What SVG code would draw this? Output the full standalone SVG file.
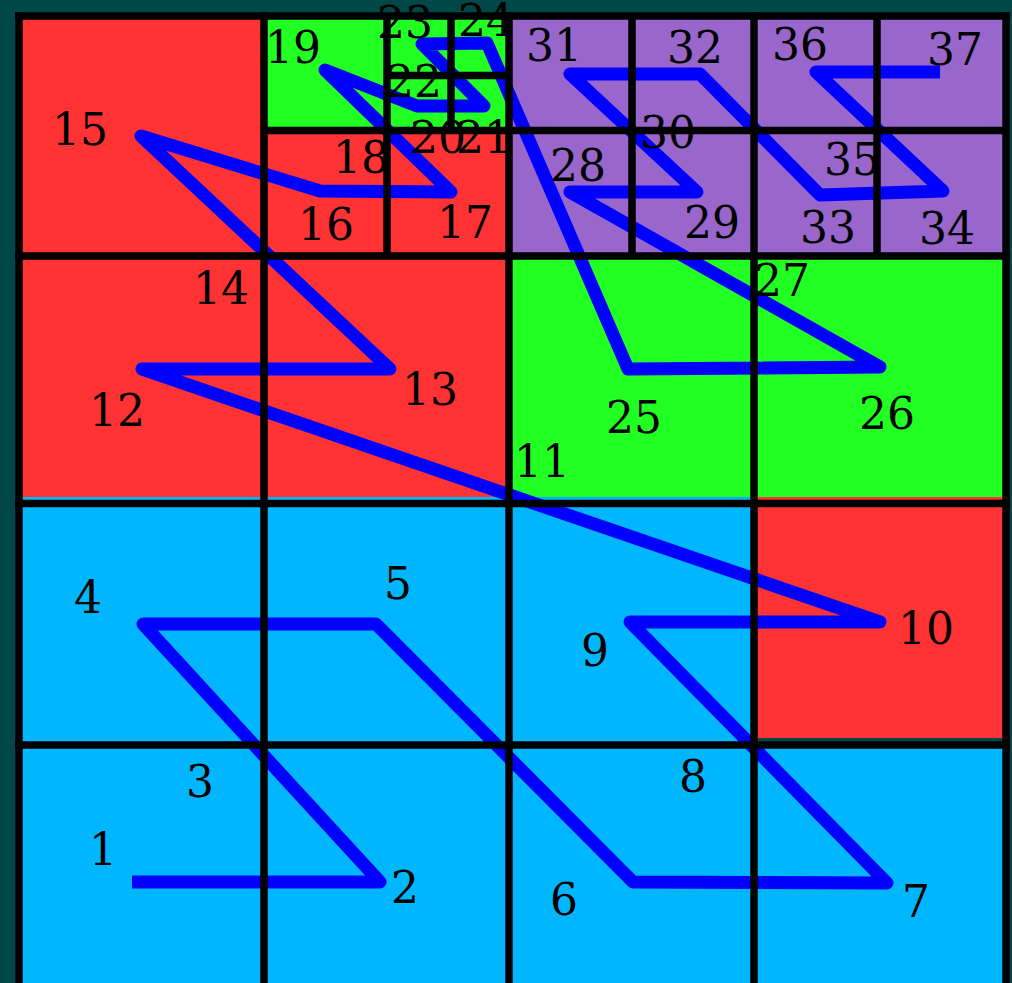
<svg xmlns="http://www.w3.org/2000/svg" width="1012" height="983" viewBox="0 0 1012 983">
<style>
.r{fill:#ff3333}.g{fill:#22ff22}.c{fill:#00b7ff}.p{fill:#9966cc}
.ln{stroke:#000;stroke-width:7.5;fill:none}
.path{stroke:#0000ff;stroke-width:13;fill:none;stroke-linejoin:round;stroke-linecap:butt}
text{font-family:"DejaVu Serif",serif;font-size:44px;fill:#000;text-anchor:middle}
</style>
<rect width="1012" height="983" fill="#004747"/>
<g id="cells">
<rect class="r" x="19" y="16" width="245" height="240"/>
<rect class="g" x="264" y="16" width="245" height="115"/>
<rect class="r" x="264" y="130" width="245" height="126"/>
<rect class="p" x="509" y="16" width="497" height="240"/>
<rect class="r" x="19" y="256" width="490" height="241"/>
<rect class="g" x="509" y="256" width="497" height="241"/>
<rect class="c" x="19" y="497" width="735" height="250"/>
<rect class="r" x="754" y="497" width="252" height="241"/>
<rect class="c" x="19" y="745" width="987" height="238"/>
</g>
<g id="connectors">
<polyline class="path" points="132,882 380,882 143,624 376,624 633,882 887,883 630,622 880,622 142,369 390,369 141,136 320,191 451,192 325,70 417,106 484,106 422,44 487,43 628,369 880,367 570,192 697,192 570,74 700,74 820,195 943,191 816,72 940,72"/>
</g>
<g id="grid">
<path class="ln" d="M15,16H1010M15,256H1010M15,503.5H1010M15,745H1010M264,130.5H1006M387,75.5H509M19,12V983M264,12V983M509,12V983M754,12V983M1006,12V983M387,16V256M451,16V130M632,16V256M877,16V256"/>
</g>
<g id="labels">
<text x="103" y="865">1</text>
<text x="405" y="903">2</text>
<text x="200" y="797">3</text>
<text x="88" y="613">4</text>
<text x="398" y="599">5</text>
<text x="564" y="915">6</text>
<text x="916" y="917">7</text>
<text x="693" y="792">8</text>
<text x="595" y="666">9</text>
<text x="926" y="644">10</text>
<text x="542" y="477">11</text>
<text x="117" y="426">12</text>
<text x="430" y="405">13</text>
<text x="221" y="304">14</text>
<text x="80" y="145">15</text>
<text x="326" y="240">16</text>
<text x="465" y="238">17</text>
<text x="361" y="173">18</text>
<text x="293" y="63">19</text>
<text x="438" y="153">20</text>
<text x="484" y="153">21</text>
<text x="414" y="97">22</text>
<text x="405" y="38">23</text>
<text x="486" y="36">24</text>
<text x="634" y="433">25</text>
<text x="887" y="429">26</text>
<text x="782" y="296">27</text>
<text x="578" y="181">28</text>
<text x="712" y="238">29</text>
<text x="668" y="148">30</text>
<text x="554" y="61">31</text>
<text x="695" y="63">32</text>
<text x="828" y="243">33</text>
<text x="947" y="244">34</text>
<text x="852" y="175">35</text>
<text x="800" y="60">36</text>
<text x="955" y="65">37</text>
</g>
</svg>
